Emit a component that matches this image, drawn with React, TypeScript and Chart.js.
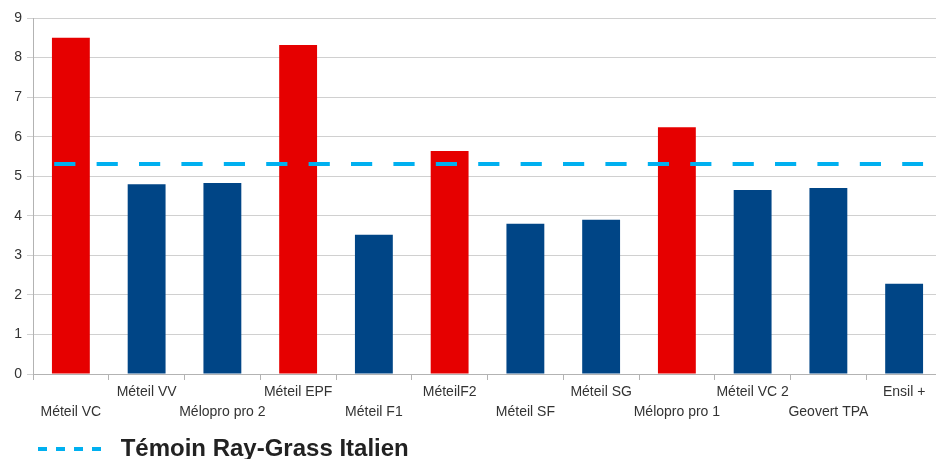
import React, { useEffect, useRef } from "react";
import { Chart, registerables } from "chart.js";

Chart.register(...registerables);

const categories = [
  "Méteil VC",
  "Méteil VV",
  "Mélopro pro 2",
  "Méteil EPF",
  "Méteil F1",
  "MéteilF2",
  "Méteil SF",
  "Méteil SG",
  "Mélopro pro 1",
  "Méteil VC 2",
  "Geovert TPA",
  "Ensil +",
];
const values = [8.5, 4.8, 4.83, 8.32, 3.52, 5.64, 3.8, 3.9, 6.24, 4.65, 4.7, 2.28];
const highlightedCategories = ["Méteil VC", "Méteil EPF", "MéteilF2", "Mélopro pro 1"];
const referenceLabel = "Témoin Ray-Grass Italien";
const referenceValue = 5.31;
const yTicks = [0, 1, 2, 3, 4, 5, 6, 7, 8, 9];

const RED = "#e60000";
const BLUE = "#004586";
const CYAN = "#00b0f0";
const TEXT = "#333333";
const GRID = "#d0d0d0";
const FONT = "'Liberation Sans', Arial, sans-serif";

const legendShift = {
  id: "legendShift",
  afterLayout(chart: any) {
    const l = chart.legend;
    if (l) {
      l.left += 28;
      l.right += 28;
    }
  },
};

export default function App() {
  const canvasRef = useRef<HTMLCanvasElement | null>(null);

  useEffect(() => {
    if (!canvasRef.current) return;
    const n = categories.length;
    const chart = new Chart(canvasRef.current, {
      type: "bar",
      data: {
        labels: categories.map((c, i) => (i % 2 === 0 ? ["", c] : [c, ""])),
        datasets: [
          {
            type: "bar",
            label: "Valeurs",
            data: values,
            backgroundColor: categories.map((c) =>
              highlightedCategories.includes(c) ? RED : BLUE
            ),
            borderWidth: 0,
            categoryPercentage: 1,
            barPercentage: 0.5,
            grouped: false,
            order: 1,
            xAxisID: "x",
          },
          {
            type: "line",
            label: referenceLabel,
            data: [
              { x: -0.22, y: referenceValue },
              { x: n - 0.75, y: referenceValue },
            ],
            borderColor: CYAN,
            backgroundColor: CYAN,
            borderWidth: 4,
            borderDash: [21.2, 21.2],
            pointRadius: 0,
            fill: false,
            order: 0,
            xAxisID: "x2",
          },
        ],
      } as any,
      options: {
        animation: false,
        responsive: true,
        maintainAspectRatio: false,
        layout: { padding: { left: 0, top: 18, right: 0, bottom: 0 } },
        scales: {
          x: {
            type: "category",
            offset: true,
            grid: {
              display: true,
              drawOnChartArea: false,
              drawTicks: true,
              tickLength: 6,
              color: "#b3b3b3",
              offset: true,
            },
            border: { display: true, color: "#b3b3b3" },
            ticks: {
              autoSkip: false,
              maxRotation: 0,
              minRotation: 0,
              padding: 2,
              color: TEXT,
              font: { family: FONT, size: 14, lineHeight: "20px" },
            },
            afterFit: (scale: any) => {
              scale.height = 53;
            },
          },
          x2: {
            type: "linear",
            display: false,
            offset: false,
            grid: { offset: false },
            min: -0.5,
            max: n - 0.5,
          },
          y: {
            type: "linear",
            min: 0,
            max: 9,
            afterBuildTicks: (scale: any) => {
              scale.ticks = yTicks.map((v) => ({ value: v }));
            },
            grid: {
              color: GRID,
              tickLength: 6,
              drawTicks: true,
            },
            border: { display: true, color: "#b3b3b3" },
            ticks: {
              padding: 5,
              color: TEXT,
              font: { family: FONT, size: 14 },
            },
            afterFit: (scale: any) => {
              scale.width = 33;
            },
          },
        },
        plugins: {
          tooltip: { enabled: false },
          legend: {
            display: true,
            position: "bottom",
            align: "start",
            labels: {
              usePointStyle: true,
              pointStyle: "line",
              pointStyleWidth: 64,
              padding: 10,
              color: "#222222",
              font: { family: FONT, size: 24, weight: "bold" },
              generateLabels: (ch: any) => {
                const items = Chart.defaults.plugins.legend.labels.generateLabels(ch);
                return items
                  .filter((it: any) => it.datasetIndex === 1)
                  .map((it: any) => ({
                    ...it,
                    text: " " + it.text,
                    lineDash: [9, 9],
                    lineWidth: 4,
                    strokeStyle: CYAN,
                    fillStyle: CYAN,
                    pointStyle: "line",
                  }));
              },
            },
          },
        },
      },
      plugins: [legendShift],
    });
    return () => chart.destroy();
  }, []);

  return (
    <div
      style={{
        position: "fixed",
        left: 0,
        top: 0,
        width: 936,
        height: 459,
        overflow: "hidden",
        background: "#ffffff",
      }}
    >
      <div style={{ position: "absolute", left: 0, top: 0, width: 942, height: 471 }}>
        <canvas ref={canvasRef} />
      </div>
    </div>
  );
}
